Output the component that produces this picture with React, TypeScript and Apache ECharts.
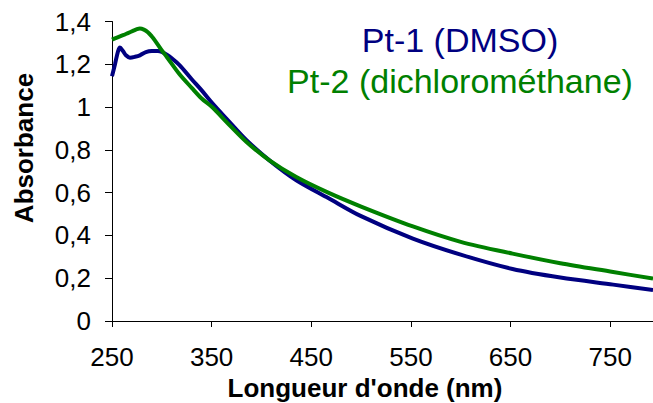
import React, { useEffect, useRef } from "react";
import * as echarts from "echarts";

const seriesNames = ["Pt-1 (DMSO)", "Pt-2 (dichlorométhane)"];
const seriesColors = ["#000080", "#008000"];

const pt1Wavelengths = [250, 253, 256, 258, 261, 264, 268, 273, 278, 284, 290, 296, 300, 305, 310, 318, 330, 340, 351, 365, 385, 408, 435, 467, 500, 552, 600, 652, 700, 753, 793];
const pt1Absorbance = [1.144, 1.2, 1.26, 1.278, 1.262, 1.242, 1.231, 1.235, 1.242, 1.257, 1.262, 1.262, 1.258, 1.245, 1.228, 1.195, 1.13, 1.078, 1.016, 0.945, 0.845, 0.751, 0.658, 0.575, 0.49, 0.385, 0.31, 0.243, 0.203, 0.17, 0.145];

const pt2Wavelengths = [250, 255, 261, 266, 271, 275, 278, 282, 286, 290, 293, 300, 305, 318, 330, 340, 351, 365, 385, 408, 435, 467, 500, 552, 600, 652, 700, 753, 793];
const pt2Absorbance = [1.315, 1.325, 1.336, 1.346, 1.356, 1.364, 1.367, 1.362, 1.35, 1.33, 1.312, 1.265, 1.234, 1.152, 1.09, 1.04, 0.998, 0.93, 0.837, 0.751, 0.673, 0.6, 0.535, 0.442, 0.37, 0.315, 0.27, 0.229, 0.198];

const xTitle = "Longueur d'onde (nm)";
const yTitle = "Absorbance";

const FONT = '"Liberation Sans", Arial, Helvetica, sans-serif';

function pairs(xs: number[], ys: number[]) {
  return xs.map((x, i) => [x, ys[i]]);
}

function fmtY(v: number) {
  if (Math.abs(v - Math.round(v)) < 1e-9) return String(Math.round(v));
  return v.toFixed(1).replace(".", ",");
}

export default function App() {
  const ref = useRef<HTMLDivElement>(null);
  useEffect(() => {
    if (!ref.current) return;
    const chart = echarts.init(ref.current, undefined, { renderer: "svg" });
    chart.setOption({
      animation: false,
      backgroundColor: "#ffffff",
      grid: { left: 112, right: 0, top: 21.5, bottom: 82, containLabel: false },
      xAxis: {
        type: "value",
        min: 250,
        max: 793,
        interval: 100,
        axisLine: { show: true, lineStyle: { color: "#000", width: 1 } },
        axisTick: { show: true, length: 6, inside: false, lineStyle: { color: "#000" } },
        axisLabel: {
          color: "#000",
          fontSize: 26,
          fontFamily: FONT,
          margin: 23,
          showMaxLabel: false,
        },
        splitLine: { show: false },
      },
      yAxis: {
        type: "value",
        min: 0,
        max: 1.4,
        interval: 0.2,
        axisLine: { show: true, lineStyle: { color: "#000", width: 1 } },
        axisTick: { show: true, length: 7, inside: false, lineStyle: { color: "#000" } },
        axisLabel: {
          color: "#000",
          fontSize: 26,
          fontFamily: FONT,
          margin: 21,
          padding: [10, 0, 0, 0],
          formatter: (v: number) => fmtY(v),
        },
        splitLine: { show: false },
      },
      series: [
        {
          name: seriesNames[0],
          type: "line",
          data: pairs(pt1Wavelengths, pt1Absorbance),
          showSymbol: false,
          smooth: 0.3,
          lineStyle: { color: seriesColors[0], width: 4 },
          itemStyle: { color: seriesColors[0] },
          z: 2,
        },
        {
          name: seriesNames[1],
          type: "line",
          data: pairs(pt2Wavelengths, pt2Absorbance),
          showSymbol: false,
          smooth: 0.3,
          lineStyle: { color: seriesColors[1], width: 4 },
          itemStyle: { color: seriesColors[1] },
          z: 3,
        },
      ],
      graphic: [
        {
          type: "text",
          x: 460,
          y: 40,
          style: {
            text: seriesNames[0],
            fill: seriesColors[0],
            fontSize: 34,
            fontFamily: FONT,
            align: "center",
            verticalAlign: "middle",
          },
        },
        {
          type: "text",
          x: 460,
          y: 81,
          style: {
            text: seriesNames[1],
            fill: seriesColors[1],
            fontSize: 34,
            fontFamily: FONT,
            align: "center",
            verticalAlign: "middle",
          },
        },
        {
          type: "text",
          x: 365,
          y: 388,
          style: {
            text: xTitle,
            fill: "#000",
            fontSize: 26,
            fontWeight: "bold",
            fontFamily: FONT,
            align: "center",
            verticalAlign: "middle",
          },
        },
        {
          type: "text",
          x: 24,
          y: 148,
          rotation: Math.PI / 2,
          style: {
            text: yTitle,
            fill: "#000",
            fontSize: 26,
            fontWeight: "bold",
            fontFamily: FONT,
            align: "center",
            verticalAlign: "middle",
          },
        },
      ],
    });
    return () => chart.dispose();
  }, []);
  return (
    <div
      ref={ref}
      style={{ position: "absolute", left: 0, top: 0, width: 653, height: 403 }}
    />
  );
}
